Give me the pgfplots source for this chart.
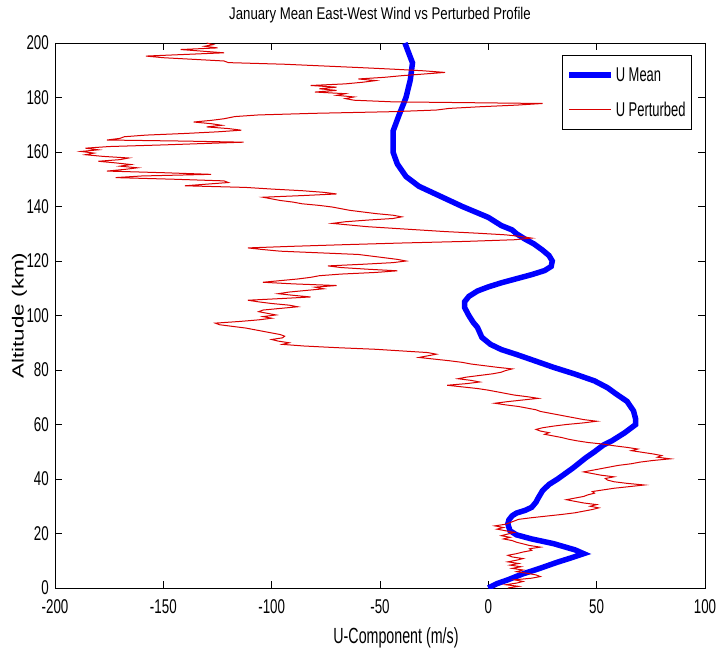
\documentclass[border=0pt]{standalone}
\usepackage{fontspec}
\setmainfont{Liberation Sans}
\newfontfamily\tickfont{Liberation Sans}[FakeStretch=0.67]
\newfontfamily\labfont{Liberation Sans}[FakeStretch=0.65]
\newfontfamily\titlefont{Liberation Sans}[FakeStretch=0.78]
\usepackage{graphicx}
\usepackage{pgfplots}
\pgfplotsset{compat=1.18}
\usepackage{pgfplotstable}

\pgfplotstableread{
alt x
0 0
1.6 4
3 9
5.2 16
7 23
9.5 32
11 38
12.6 44
14 40
16.3 30
18 20
19.5 13
21 10
23.5 9
25 9.5
26.5 11
27.5 13
28.5 17
29.6 20
31.5 22
33 23
35.7 25
38 28
40 32
44 39
47.8 45
50 49
52.4 53
54 57
57 63
60 68
62 68
65 67
68.5 64
71.2 59
73.5 55
76 49
78.5 40
81 30
83.5 21
85.7 13
87.5 6
89.4 1
92 -3
95.6 -5
97.5 -7
100 -9
103 -11
105 -11
107 -9
109 -5
110.5 0
112 6
113.5 13
115 20
116.5 26
118 29
120 29.5
122 28
124 25
126.3 21
128 17
130 13
131.4 11
133 6
136 0
138 -6
140 -12
143.7 -22
147.4 -32
151 -38
155.6 -42
160 -44
167.6 -44
174 -41
180 -38
186.5 -36
192.7 -35
200 -38.5
}\umean

\pgfplotstableread{
alt x
0 9
0.6 14
1.2 8
1.8 13
2.4 16
3.0 12
3.6 20
4.2 24
4.8 22
5.4 18
6.0 13
6.6 16
7.2 11
7.8 15
8.4 10
9.0 14
9.6 9
10.2 13
10.8 16
11.4 11
12.0 9
12.6 13
13.2 16
13.8 20
14.4 19
15.0 24
15.6 19
16.2 16
16.8 13
17.4 11
18.0 7
18.6 10
19.2 6
19.8 9
20.4 12
21.0 8
21.6 4
22.2 7
22.8 3
23.4 8
24.0 10
24.6 12
25.2 14
25.8 20
26.4 27
27.0 34
27.6 40
28.2 44
28.8 48
29.4 51
30.0 47
30.6 50
31.2 44
31.8 40
32.4 36
33.0 40
33.6 44
34.2 46
34.8 49
35.4 48
36.0 53
36.6 58
37.2 65
37.8 72
38.4 64
39.0 58
39.6 55
40.2 54
40.8 58
41.4 52
42.0 48
42.6 44
43.2 48
43.8 52
44.4 56
45.0 60
45.6 66
46.2 70
46.8 76
47.4 84
48.0 78
48.6 80
49.2 76
49.8 71
50.4 66
51.0 69
51.6 64
52.2 58
52.8 53
53.4 46
54.0 41
54.6 37
55.2 34
55.8 30
56.4 26
57.0 28
57.6 24
58.2 22
58.8 25
59.4 30
60.0 36
60.6 44
61.2 50
61.8 44
62.4 40
63.0 36
63.6 32
64.2 28
64.8 24
65.4 22
66.0 18
66.6 14
67.2 8
67.8 3
68.4 9
69.0 16
69.6 23
70.2 18
70.8 12
71.4 8
72.0 4
72.6 0
73.2 -5
73.8 -12
74.4 -19
75.0 -10
75.6 -4
76.2 -8
76.8 -14
77.4 -10
78.0 -4
78.6 2
79.2 6
79.8 8
80.4 11
81.0 4
81.6 -2
82.2 -8
82.8 -12
83.4 -18
84.0 -25
84.6 -32
85.2 -28
85.8 -24
86.4 -28
87.0 -40
87.6 -52
88.2 -70
88.8 -85
89.4 -95
90.0 -92
90.6 -97
91.2 -100
91.8 -95
92.4 -94
93.0 -96
93.6 -100
94.2 -104
94.8 -108
95.4 -112
96.0 -118
96.6 -124
97.2 -126
97.8 -115
98.4 -106
99.0 -100
99.6 -104
100.2 -98
100.8 -102
101.4 -106
102.0 -104
102.6 -96
103.2 -88
103.8 -92
104.4 -100
105.0 -106
105.6 -111
106.2 -96
106.8 -82
107.4 -90
108.0 -97
108.6 -92
109.2 -84
109.8 -76
110.4 -80
111.0 -70
111.6 -90
112.2 -104
112.8 -96
113.4 -88
114.0 -82
114.6 -78
115.2 -68
115.8 -52
116.4 -42
117.0 -56
117.6 -68
118.2 -74
118.8 -58
119.4 -44
120.0 -38
120.6 -42
121.2 -48
121.8 -54
122.4 -60
123.0 -78
123.6 -96
124.2 -104
124.8 -111
125.4 -90
126.0 -66
126.6 -40
127.2 -10
127.8 12
128.4 20
129.0 15
129.6 8
130.2 -5
130.8 -20
131.4 -32
132.0 -44
132.6 -56
133.2 -64
133.8 -72
134.4 -66
135.0 -56
135.6 -44
136.2 -40
136.8 -44
137.4 -52
138.0 -58
138.6 -64
139.2 -68
139.8 -72
140.4 -78
141.0 -86
141.6 -90
142.2 -96
142.8 -100
143.4 -104
144.0 -86
144.6 -70
145.2 -76
145.8 -86
146.4 -100
147.0 -112
147.6 -140
148.2 -130
148.8 -120
149.4 -122
150.0 -145
150.6 -172
151.2 -160
151.8 -128
152.4 -150
153.0 -176
153.6 -168
154.2 -162
154.8 -170
155.4 -165
156.0 -172
156.6 -180
157.2 -170
157.8 -166
158.4 -178
159.0 -186
159.6 -182
160.2 -188
160.8 -180
161.4 -186
162.0 -175
162.6 -150
163.2 -128
163.6 -113
164.0 -140
164.4 -176
165.0 -170
165.6 -168
166.2 -158
166.8 -140
167.4 -125
168.0 -114
168.6 -120
169.2 -130
169.8 -123
170.4 -128
171.0 -136
171.6 -128
172.2 -122
173.0 -117
173.6 -106
174.2 -80
174.8 -44
175.4 -24
176.0 -18
176.6 -4
177.2 13
177.8 25
178.4 -44
179.0 -62
179.6 -66
180.2 -62
180.8 -70
181.4 -66
182.0 -80
182.6 -70
183.2 -78
183.8 -70
184.4 -82
185.0 -66
185.6 -58
186.2 -52
186.8 -60
187.4 -48
188.0 -40
188.6 -30
189.2 -20
189.8 -30
190.4 -44
191.0 -60
191.6 -77
192.2 -94
192.8 -120
193.4 -122
194.0 -136
194.6 -150
195.2 -158
195.8 -140
196.4 -122
197.0 -132
197.6 -142
198.2 -125
198.8 -131
199.4 -127
200.0 -130
}\upert

\begin{document}
\begin{tikzpicture}
\begin{axis}[
  scale only axis, width=650bp, height=545bp,
  xmin=-200, xmax=100, ymin=0, ymax=200,
  xtick={-200,-150,...,100}, ytick={0,20,...,200},
  tick align=inside, major tick length=7bp,
  tick style={black, line width=0.7bp},
  axis line style={line width=0.8bp},
  /pgf/number format/assume math mode=true,
  ticklabel style={font=\tickfont\fontsize{20}{20}\selectfont},
  xticklabel style={anchor=north, inner sep=0pt, yshift=-11bp},
  yticklabel style={anchor=east, inner sep=0pt, xshift=-6bp},
  title={January Mean East-West Wind vs Perturbed Profile},
  title style={font=\titlefont\fontsize{17}{17}\selectfont, at={(axis description cs:0.5,1)}, anchor=base, inner sep=0pt, yshift=18bp},
  xlabel={U-Component (m/s)},
  xlabel style={font=\labfont\fontsize{22}{22}\selectfont, at={(axis description cs:0.5,0)}, anchor=base, inner sep=0pt, yshift=-55bp, xshift=16bp},
  ylabel={\scalebox{1}[0.72]{Altitude (km)}},
  ylabel style={font=\fontsize{22.5}{22.5}\selectfont, at={(axis description cs:-0.043,0.5)}, anchor=south, inner sep=0pt},
  legend style={at={(axis description cs:0.98,0.978)}, anchor=north east, draw=black, line width=0.8bp,
    font=\labfont\fontsize{20}{20}\selectfont, inner xsep=4bp, inner ysep=10bp, row sep=15bp},
  legend cell align=left,
  legend image code/.code={\draw[#1] (0bp,0bp) -- (42bp,0bp);},
]
\addplot[blue, line width=5.5bp] table[x=x, y=alt] {\umean};
\addlegendentry{U Mean}
\addplot[red!85!black, line width=1bp] table[x=x, y=alt] {\upert};
\addlegendentry{U Perturbed}
\end{axis}
\pgfresetboundingbox
\path ([xshift=-55bp,yshift=-64bp]current axis.south west) rectangle ([xshift=12bp,yshift=43bp]current axis.north east);
\end{tikzpicture}
\end{document}
